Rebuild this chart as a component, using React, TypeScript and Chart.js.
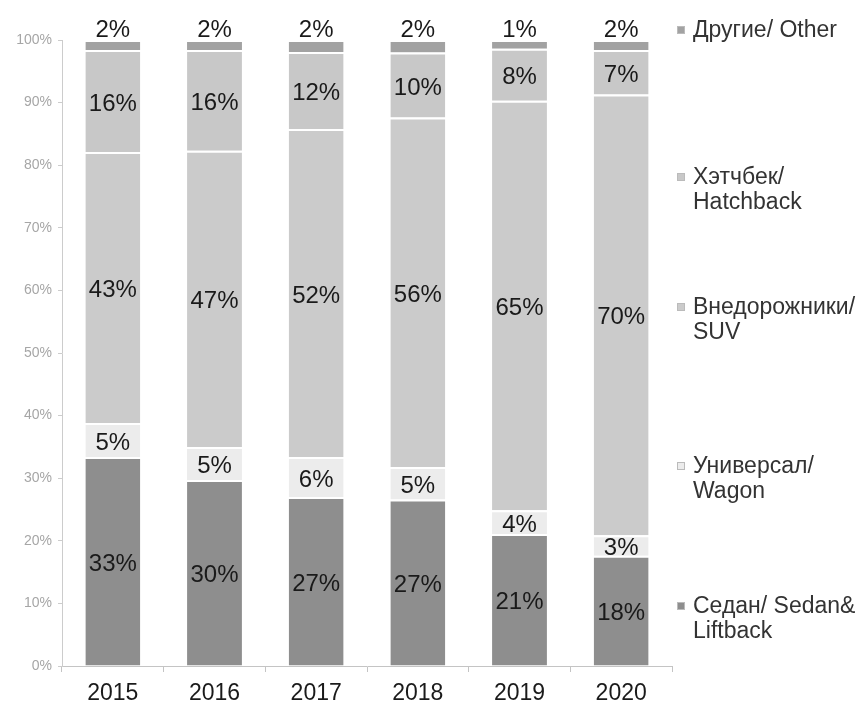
import React, { useEffect, useRef } from "react";
import { Chart, registerables } from "chart.js";

Chart.register(...registerables);

const FONT = "'Liberation Sans', Arial, sans-serif";

const years = ["2015", "2016", "2017", "2018", "2019", "2020"];
const sedan = [33.4, 29.7, 27.0, 26.6, 21.1, 17.6];
const wagon = [5.4, 5.3, 6.4, 5.2, 3.8, 3.3];
const suv = [43.3, 47.3, 52.4, 55.8, 65.4, 70.4];
const hatchback = [16.3, 16.1, 12.3, 10.4, 8.3, 7.1];
const other = [1.6, 1.6, 1.9, 2.0, 1.4, 1.6];

const seriesNames = [
  "Седан/ Sedan& Liftback",
  "Универсал/ Wagon",
  "Внедорожники/ SUV",
  "Хэтчбек/ Hatchback",
  "Другие/ Other",
];
const seriesColors = ["#8e8e8e", "#ececec", "#cbcbcb", "#c8c8c8", "#a2a2a2"];

const legendItems = [
  { lines: ["Другие/ Other"], color: seriesColors[4], top: 17 },
  { lines: ["Хэтчбек/", "Hatchback"], color: seriesColors[3], top: 164 },
  { lines: ["Внедорожники/", "SUV"], color: seriesColors[2], top: 294 },
  { lines: ["Универсал/", "Wagon"], color: seriesColors[1], top: 453 },
  { lines: ["Седан/ Sedan&", "Liftback"], color: seriesColors[0], top: 593 },
];

const labelPlugin = {
  id: "segLabels",
  afterDatasetsDraw(chart: any) {
    const ctx = chart.ctx;
    ctx.save();
    ctx.font = `24px ${FONT}`;
    ctx.fillStyle = "#1a1a1a";
    ctx.textAlign = "center";
    ctx.textBaseline = "middle";
    chart.data.datasets.forEach((ds: any, di: number) => {
      const meta = chart.getDatasetMeta(di);
      meta.data.forEach((el: any, i: number) => {
        const v = ds.data[i] as number;
        const txt = Math.round(v) + "%";
        const p = el.getProps(["x", "y", "base"], true);
        if (di === 4) {
          ctx.fillText(txt, p.x, p.y - 10);
        } else {
          ctx.fillText(txt, p.x, (p.y + p.base) / 2 + 3);
        }
      });
    });
    ctx.restore();
  },
};

export default function App() {
  const ref = useRef<HTMLCanvasElement | null>(null);

  useEffect(() => {
    if (!ref.current) return;
    const data = [sedan, wagon, suv, hatchback, other];
    const chart = new Chart(ref.current, {
      type: "bar",
      data: {
        labels: years,
        datasets: data.map((d, i) => ({
          label: seriesNames[i],
          data: d,
          backgroundColor: seriesColors[i],
          borderColor: "#ffffff",
          borderWidth: { top: 2, right: 0, bottom: 0, left: 0 },
          borderSkipped: false,
          barPercentage: 0.54,
          categoryPercentage: 1,
        })),
      },
      options: {
        responsive: false,
        animation: false,
        devicePixelRatio: 1,
        layout: { padding: { left: 0, top: 40, right: 196, bottom: 0 } },
        plugins: {
          legend: { display: false },
          tooltip: { enabled: false },
        },
        scales: {
          x: {
            stacked: true,
            grid: {
              display: true,
              drawOnChartArea: false,
              offset: true,
              tickLength: 6,
              color: "#c4c4c4",
            },
            border: { display: true, color: "#c4c4c4" },
            ticks: { color: "#1a1a1a", font: { size: 23, family: FONT }, padding: 8 },
            afterFit(scale: any) {
              scale.height = 38;
            },
          },
          y: {
            stacked: true,
            min: 0,
            max: 100,
            ticks: {
              stepSize: 10,
              callback: (v: any) => v + "%",
              color: "#a6a6a6",
              font: { size: 14, family: FONT },
              padding: 6,
            },
            grid: { drawOnChartArea: false, tickLength: 4, color: "#cccccc" },
            border: { display: true, color: "#cccccc" },
            afterFit(scale: any) {
              scale.width = 62;
            },
          },
        },
      },
      plugins: [labelPlugin],
    });
    return () => chart.destroy();
  }, []);

  return (
    <div style={{ position: "absolute", left: 0, top: 0, width: 868, height: 704, background: "#fff", overflow: "hidden" }}>
      <canvas ref={ref} width={868} height={704} style={{ width: 868, height: 704, display: "block" }} />
      {legendItems.map((it, i) => (
        <div
          key={i}
          style={{
            position: "absolute",
            left: 677,
            top: it.top,
            fontFamily: FONT,
            fontSize: 23,
            lineHeight: "25px",
            color: "#333",
            whiteSpace: "nowrap",
          }}
        >
          <span
            style={{
              position: "absolute",
              left: 0,
              top: 9,
              width: 8,
              height: 8,
              background: it.color,
              border: "1px solid #bbb",
              boxSizing: "border-box",
            }}
          />
          <div style={{ marginLeft: 16 }}>
            {it.lines.map((l, j) => (
              <div key={j}>{l}</div>
            ))}
          </div>
        </div>
      ))}
    </div>
  );
}
